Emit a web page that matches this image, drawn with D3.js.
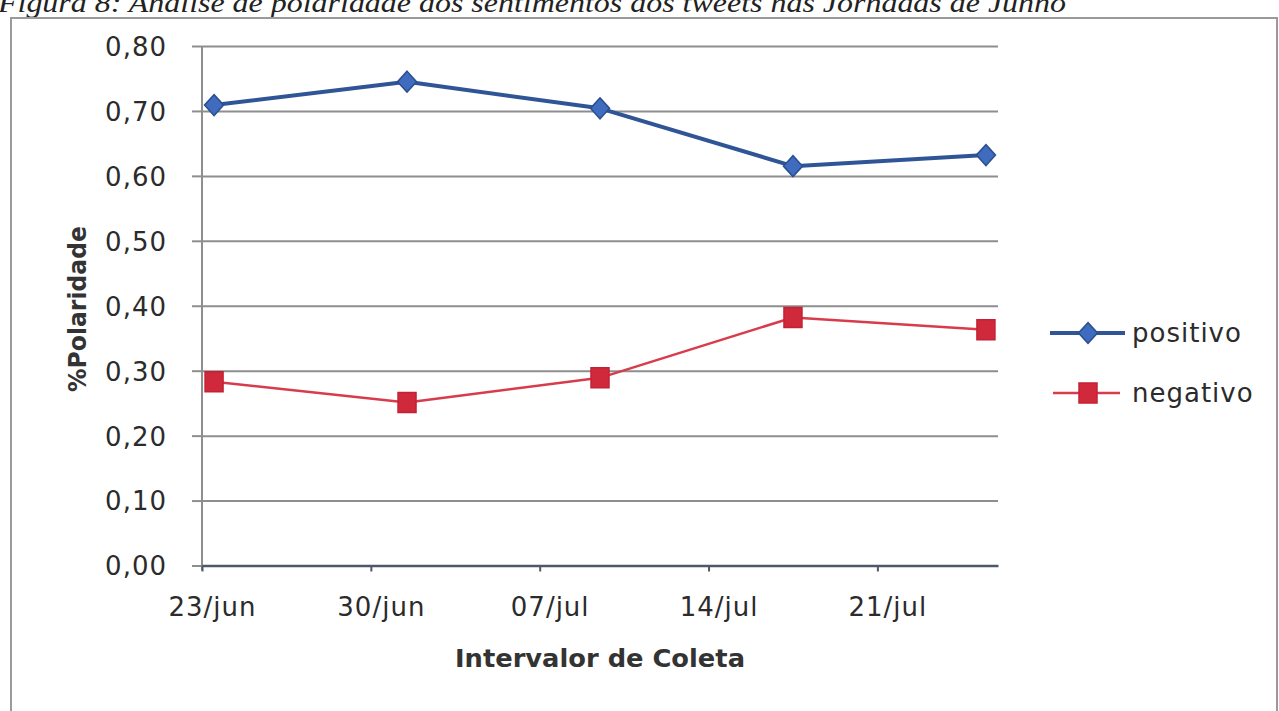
<!DOCTYPE html>
<html>
<head>
<meta charset="utf-8">
<script src="https://cdn.jsdelivr.net/npm/d3@7"></script>
<style>
  body { margin: 0; background: #fff; }
  svg { display: block; }
  .axis text { font-family: "DejaVu Sans", sans-serif; font-size: 26px; fill: #2b2b2b; letter-spacing: 1px; }
  .legend text { font-family: "DejaVu Sans", sans-serif; font-size: 26px; fill: #2b2b2b; letter-spacing: 1px; }
</style>
</head>
<body>
<div class="data"></div>
<script>
const caption = "Figura 8: Análise de polaridade dos sentimentos dos tweets nas Jornadas de Junho"
const dates = ["2013-06-23", "2013-07-01", "2013-07-09", "2013-07-17", "2013-07-25"]
const positivo = [0.709, 0.745, 0.704, 0.615, 0.632]
const negativo = [0.283, 0.251, 0.289, 0.382, 0.363]
const yTicks = [0, 0.1, 0.2, 0.3, 0.4, 0.5, 0.6, 0.7, 0.8]
const xTickDates = ["2013-06-23", "2013-06-30", "2013-07-07", "2013-07-14", "2013-07-21"]
const xTickLabels = ["23/jun", "30/jun", "07/jul", "14/jul", "21/jul"]
const xDomain = ["2013-06-23", "2013-07-26"]
const seriesNames = ["positivo", "negativo"]

const W = 1279, H = 711
const margin = {top: 46, right: 281, bottom: 145.5, left: 202},
    width = W - margin.left - margin.right,
    height = H - margin.top - margin.bottom

const parse = d3.utcParse("%Y-%m-%d")

const x = d3.scaleUtc()
    .domain(xDomain.map(parse))
    .range([0, width])

const y = d3.scaleLinear()
    .domain([0, 0.8])
    .range([height, 0])

const svg = d3.select('.data').append("svg")
    .attr("width", W)
    .attr("height", H)

// caption, cut at the top of the page as in the scan
svg.append("text")
    .attr("x", -2)
    .attr("y", 12)
    .attr("textLength", 1068)
    .attr("lengthAdjust", "spacingAndGlyphs")
    .style("font-family", "'Liberation Serif', serif")
    .style("font-style", "italic")
    .style("font-size", "27px")
    .style("fill", "#222")
    .text(caption)

// outer frame
svg.append("rect")
    .attr("x", 11)
    .attr("y", 18)
    .attr("width", 1266)
    .attr("height", 720)
    .style("fill", "none")
    .style("stroke", "#9a9a9a")
    .style("stroke-width", 2)

const g = svg.append("g")
    .attr("transform", "translate(" + margin.left + "," + margin.top + ")")

// gridlines
g.append("g")
    .attr("class", "grid")
    .call(d3.axisLeft(y).tickValues(yTicks.slice(1)).tickSize(-width).tickFormat(""))
    .call(s => s.select(".domain").remove())
    .selectAll("line")
    .style("stroke", "#8e8e8e")
    .style("stroke-width", 2)

// y axis
const yAxis = g.append("g")
    .attr("class", "y axis")
    .call(d3.axisLeft(y)
        .tickValues(yTicks)
        .tickSize(10)
        .tickPadding(25)
        .tickFormat(d => d.toFixed(2).replace(".", ",")))
yAxis.select(".domain")
    .attr("d", "M0,0V" + (height + 5))
    .style("stroke", "#8e8e8e")
    .style("stroke-width", 2)
yAxis.selectAll(".tick line").style("stroke", "#8e8e8e").style("stroke-width", 2)
yAxis.selectAll("text").attr("dy", "0.36em")

// x axis
const xAxis = g.append("g")
    .attr("class", "x axis")
    .attr("transform", "translate(0," + height + ")")
    .call(d3.axisBottom(x)
        .tickValues(xTickDates.map(parse))
        .tickSize(6)
        .tickSizeOuter(0)
        .tickPadding(25)
        .tickFormat((d, i) => xTickLabels[i]))
xAxis.select(".domain").style("stroke", "#4f5869").style("stroke-width", 2.5)
xAxis.selectAll(".tick line").style("stroke", "#4f5869").style("stroke-width", 2)
xAxis.selectAll("text").attr("dx", 10).attr("dy", "0.75em")

// axis titles
svg.append("text")
    .attr("x", 600)
    .attr("y", 667)
    .attr("text-anchor", "middle")
    .attr("textLength", 290)
    .attr("lengthAdjust", "spacingAndGlyphs")
    .style("font-family", "'DejaVu Sans', sans-serif")
    .style("font-weight", "bold")
    .style("font-size", "25px")
    .style("fill", "#333")
    .text("Intervalor de Coleta")

svg.append("text")
    .attr("transform", "translate(86,309) rotate(-90)")
    .attr("text-anchor", "middle")
    .attr("textLength", 166)
    .attr("lengthAdjust", "spacingAndGlyphs")
    .style("font-family", "'DejaVu Sans', sans-serif")
    .style("font-weight", "bold")
    .style("font-size", "24px")
    .style("fill", "#333")
    .text("%Polaridade")

// series
const xPos = d => x(d3.utcHour.offset(parse(d), 12))
const style = {
    positivo: {line: "#2f5597", width: 4, fill: "#3f6cbf", stroke: "#2c4f90"},
    negativo: {line: "#d83c4c", width: 2.5, fill: "#d0293b", stroke: "#c22234"}
}
const series = [positivo, negativo]

const line = d3.line()
    .x(d => xPos(d.date))
    .y(d => y(d.value))

const diamond = d3.symbol().type(d3.symbolDiamond2).size(230)
const square = d => "M-9,-10H9V10H-9Z"
const markerPath = name => name === "positivo" ? diamond() : square()

series.forEach(function(values, si) {
    const name = seriesNames[si]
    const pts = values.map((v, i) => ({date: dates[i], value: v}))
    g.append("path")
        .datum(pts)
        .attr("d", line)
        .style("fill", "none")
        .style("stroke", style[name].line)
        .style("stroke-width", style[name].width)
        .style("stroke-linejoin", "round")
    g.selectAll(".m-" + name)
        .data(pts)
      .enter().append("path")
        .attr("class", "m-" + name)
        .attr("transform", d => "translate(" + xPos(d.date) + "," + y(d.value) + ")" + (name === "positivo" ? " scale(1,1.1)" : ""))
        .attr("d", markerPath(name))
        .style("fill", style[name].fill)
        .style("stroke", style[name].stroke)
        .style("stroke-width", 1.5)
})

// legend
const legend = svg.selectAll(".legend")
    .data(seriesNames)
  .enter().append("g")
    .attr("class", "legend")
    .attr("transform", (d, i) => "translate(1088," + (333 + i * 60) + ")")

legend.append("line")
    .attr("x1", (d, i) => i === 0 ? -38 : -35)
    .attr("x2", (d, i) => i === 0 ? 37 : 32)
    .style("stroke", d => style[d].line)
    .style("stroke-width", d => style[d].width)

legend.append("path")
    .attr("transform", d => d === "positivo" ? "scale(1,1.1)" : "")
    .attr("d", d => markerPath(d))
    .style("fill", d => style[d].fill)
    .style("stroke", d => style[d].stroke)
    .style("stroke-width", 1.5)

legend.append("text")
    .attr("x", 44)
    .attr("dy", "0.33em")
    .text(d => d)
</script>
</body>
</html>
